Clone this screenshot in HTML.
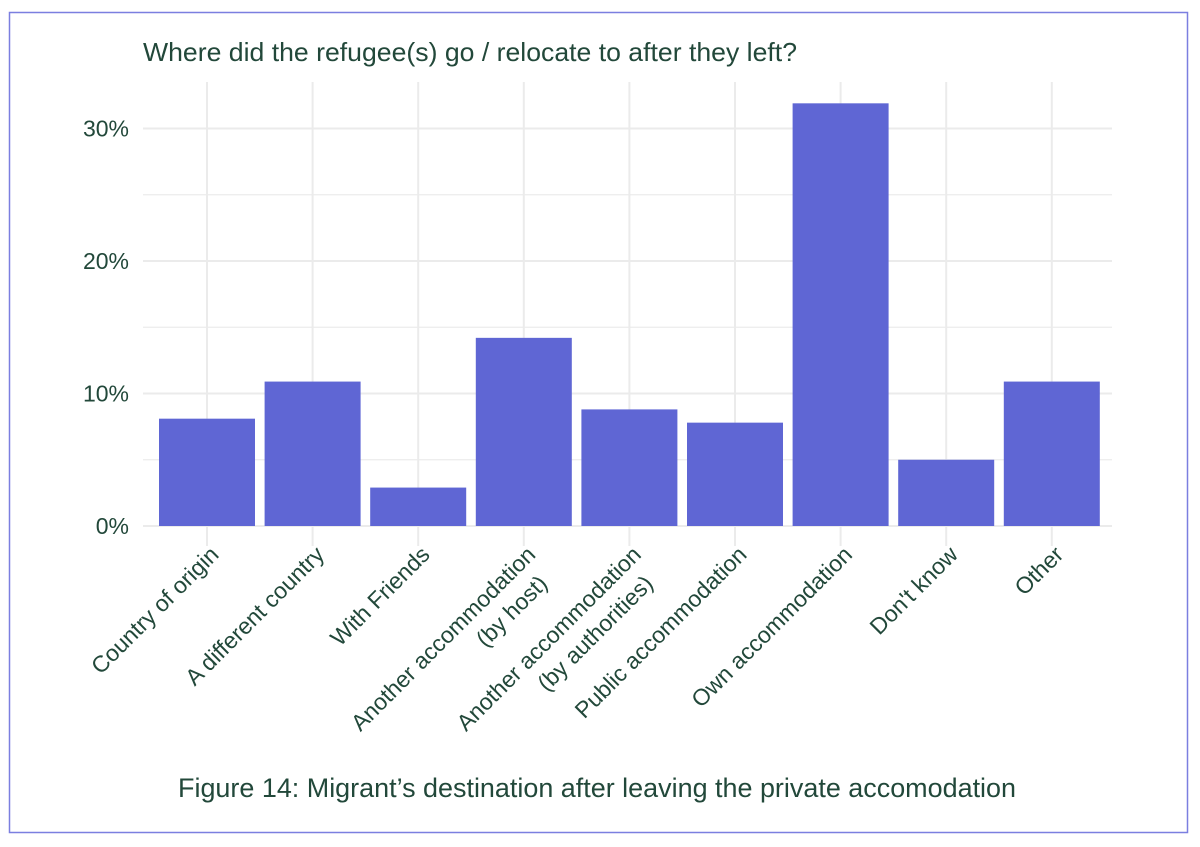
<!DOCTYPE html>
<html><head><meta charset="utf-8"><style>
body{margin:0;background:#fff;}
svg{display:block;font-family:"Liberation Sans",sans-serif;}
</style></head><body>
<svg id="chart" width="1200" height="847">
<rect x="9.5" y="12.5" width="1178" height="820" fill="#fff" stroke="#7b7fe0" stroke-width="1.5"/>
<text x="143" y="61" font-size="26" fill="#22483a" textLength="654" lengthAdjust="spacingAndGlyphs">Where did the refugee(s) go / relocate to after they left?</text>
<g id="grid"></g><g id="bars"></g><g id="yticks"></g><g id="xlabels"></g>
<text x="597" y="797" font-size="27" fill="#22483a" text-anchor="middle" textLength="838" lengthAdjust="spacingAndGlyphs">Figure 14: Migrant’s destination after leaving the private accomodation</text>
</svg>
<script>
const categories=[["Country of origin"],["A different country"],["With Friends"],["Another accommodation","(by host)"],["Another accommodation","(by authorities)"],["Public accommodation"],["Own accommodation"],["Don't know"],["Other"]];
const values=[8.1,10.9,2.9,14.2,8.8,7.8,31.9,5.0,10.9];
const yTicks=[0,10,20,30];
const yTickLabels=["0%","10%","20%","30%"];
const NS="http://www.w3.org/2000/svg";
const L=143,R=1112,T=82,B=526,step=105.6,x0=207,bw=96;
const y=v=>B-v*13.25;
const x=i=>x0+i*step;
function mk(tag,attrs,parent){const e=document.createElementNS(NS,tag);for(const k in attrs)e.setAttribute(k,attrs[k]);parent.appendChild(e);return e;}
const grid=document.getElementById('grid'),bars=document.getElementById('bars'),yt=document.getElementById('yticks'),xl=document.getElementById('xlabels');
for(let v=0;v<=33;v+=5){const g=mk('line',{x1:L,x2:R,y1:y(v),y2:y(v),stroke:'#ebebeb','stroke-width':v%10?1.2:2},grid);

}
categories.forEach((c,i)=>{const g=mk('line',{x1:x(i),x2:x(i),y1:T,y2:546,stroke:'#ebebeb','stroke-width':2},grid);

});
values.forEach((v,i)=>{const r=mk('rect',{x:x(i)-bw/2,y:y(v),width:bw,height:B-y(v),fill:'#5f66d4'},bars);

});
yTicks.forEach((v,i)=>{const t=mk('text',{x:129,y:y(v)+8,'font-size':23,fill:'#22483a','text-anchor':'end'},yt);t.textContent=yTickLabels[i];

});
categories.forEach((c,i)=>{const ax=x(i)+13,ay=556;
const t=mk('text',{transform:`translate(${ax},${ay}) rotate(-45)`,'font-size':23,fill:'#22483a','text-anchor':'end'},xl);


if(c.length===1){t.textContent=c[0];}else{
const s1=mk('tspan',{x:0,dy:0},t);s1.textContent=c[0];
const s2=mk('tspan',{x:-12,dy:29},t);s2.textContent=c[1];}
});
</script>
</body></html>
